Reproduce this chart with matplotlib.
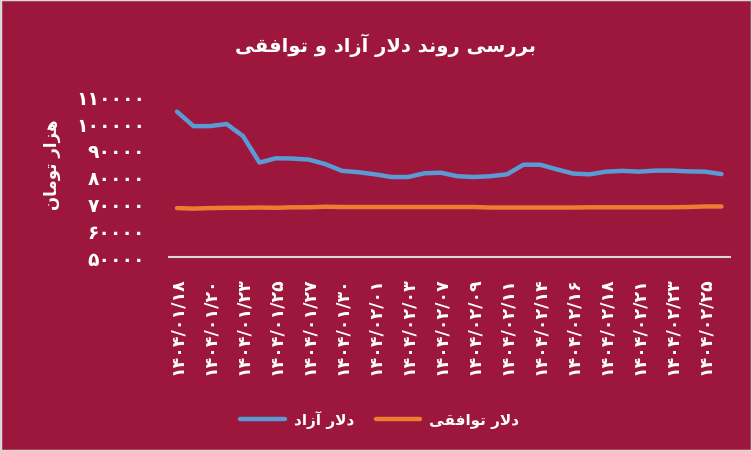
import matplotlib
matplotlib.use("Agg")
import matplotlib.pyplot as plt
from matplotlib.ticker import FixedLocator, FuncFormatter
from matplotlib.patches import Rectangle

# ---------------- data ----------------
dates = ["1404/01/18", "1404/01/19", "1404/01/20", "1404/01/22", "1404/01/23", "1404/01/24",
         "1404/01/25", "1404/01/26", "1404/01/27", "1404/01/28", "1404/01/30", "1404/01/31",
         "1404/02/01", "1404/02/02", "1404/02/03", "1404/02/06", "1404/02/07", "1404/02/08",
         "1404/02/09", "1404/02/10", "1404/02/11", "1404/02/13", "1404/02/14", "1404/02/15",
         "1404/02/16", "1404/02/17", "1404/02/18", "1404/02/20", "1404/02/21", "1404/02/22",
         "1404/02/23", "1404/02/24", "1404/02/25", "1404/02/27"]
free_dollar = [104300, 98900, 98900, 99700, 95200, 85300, 86900, 86800, 86400, 84700,
               82200, 81700, 80900, 79900, 79900, 81300, 81500, 80200, 79900, 80200,
               80900, 84500, 84500, 82800, 81200, 80900, 81900, 82200, 81900, 82300,
               82300, 82000, 81900, 81000]
agreed_dollar = [68300, 68100, 68300, 68400, 68400, 68500, 68400, 68600, 68600, 68800,
                 68700, 68700, 68700, 68700, 68700, 68700, 68700, 68700, 68700, 68500,
                 68500, 68500, 68500, 68500, 68500, 68600, 68600, 68600, 68600, 68600,
                 68600, 68700, 68900, 68900]
y_ticks = [50000, 60000, 70000, 80000, 90000, 100000, 110000]

title_text = "بررسی روند دلار آزاد و توافقی"
ylabel_text = "هزار تومان"
series_names = ["دلار آزاد", "دلار توافقی"]

# ---------------- Arabic/Persian shaping ----------------
FORMS = {  # isolated, final, initial, medial
    'ا': ('\uFE8D', '\uFE8E', None, None),
    'آ': ('\uFE81', '\uFE82', None, None),
    'ب': ('\uFE8F', '\uFE90', '\uFE91', '\uFE92'),
    'ت': ('\uFE95', '\uFE96', '\uFE97', '\uFE98'),
    'د': ('\uFEA9', '\uFEAA', None, None),
    'ر': ('\uFEAD', '\uFEAE', None, None),
    'ز': ('\uFEAF', '\uFEB0', None, None),
    'س': ('\uFEB1', '\uFEB2', '\uFEB3', '\uFEB4'),
    'ف': ('\uFED1', '\uFED2', '\uFED3', '\uFED4'),
    'ق': ('\uFED5', '\uFED6', '\uFED7', '\uFED8'),
    'ل': ('\uFEDD', '\uFEDE', '\uFEDF', '\uFEE0'),
    'م': ('\uFEE1', '\uFEE2', '\uFEE3', '\uFEE4'),
    'ن': ('\uFEE5', '\uFEE6', '\uFEE7', '\uFEE8'),
    'ه': ('\uFEE9', '\uFEEA', '\uFEEB', '\uFEEC'),
    'و': ('\uFEED', '\uFEEE', None, None),
    'ی': ('\uFBFC', '\uFBFD', '\uFBFE', '\uFBFF'),
    'LA': ('\uFEFB', '\uFEFC', None, None),
    'LAA': ('\uFEF5', '\uFEF6', None, None),
}


def shape(text):
    chars = []
    i = 0
    while i < len(text):
        c = text[i]
        if c == 'ل' and i + 1 < len(text) and text[i + 1] in 'اآ':
            chars.append('LA' if text[i + 1] == 'ا' else 'LAA')
            i += 2
        else:
            chars.append(c)
            i += 1
    out = []
    for k, c in enumerate(chars):
        if c not in FORMS:
            out.append(c)
            continue
        prev = chars[k - 1] if k > 0 else None
        nxt = chars[k + 1] if k + 1 < len(chars) else None
        f = FORMS[c]
        jp = prev in FORMS and FORMS[prev][2] is not None
        jn = f[2] is not None and nxt in FORMS
        if jp and jn:
            out.append(f[3])
        elif jp:
            out.append(f[1])
        elif jn:
            out.append(f[2])
        else:
            out.append(f[0])
    return ''.join(out)[::-1]


FA = str.maketrans("0123456789", "۰۱۲۳۴۵۶۷۸۹")


def fa_digits(s):
    return str(s).translate(FA)


# ---------------- plot ----------------
BG = '#9C173B'
plt.rcParams['font.family'] = ['DejaVu Sans']

fig = plt.figure(figsize=(7.52, 4.52), dpi=100, facecolor=BG)
fig.add_artist(Rectangle((0, 0), 1, 1, transform=fig.transFigure, fill=False,
                         edgecolor='#D9D9D9', linewidth=2.5))
ax = fig.add_axes([0.2244, 0.429, 0.746, 0.3555])
ax.set_facecolor(BG)

x = list(range(len(dates)))
l1, = ax.plot(x, free_dollar, color='#5B9BD5', linewidth=3.2, solid_capstyle='round')
l2, = ax.plot(x, agreed_dollar, color='#ED7D31', linewidth=3.2, solid_capstyle='round')

ax.set_xlim(-0.5, len(dates) - 0.5)
ax.set_ylim(50000, 110000)
ax.yaxis.set_major_locator(FixedLocator(y_ticks))
ax.yaxis.set_major_formatter(FuncFormatter(lambda v, p: fa_digits(int(v))))
ax.set_xticks(x[::2])
ax.set_xticklabels([fa_digits(d) for d in dates[::2]], rotation=90)

for s in ['top', 'right', 'left']:
    ax.spines[s].set_visible(False)
ax.spines['bottom'].set_color('#D9D9D9')
ax.spines['bottom'].set_linewidth(1.5)
ax.tick_params(axis='y', length=0, pad=17, labelcolor='white', labelsize=13.5)
ax.tick_params(axis='x', length=0, pad=14, labelcolor='white', labelsize=12.5)
for lab in ax.get_yticklabels() + ax.get_xticklabels():
    lab.set_fontweight('bold')

fig.text(0.069, 0.635, shape(ylabel_text), rotation=90, color='white', fontsize=12,
         fontweight='bold', ha='center', va='center')
fig.text(0.513, 0.90, shape(title_text), color='white', fontsize=14, fontweight='bold',
         ha='center', va='center')

leg = fig.legend([l1, l2], [shape(n) for n in series_names], ncol=2, loc='center',
                 bbox_to_anchor=(0.505, 0.071), frameon=False, handlelength=2.9,
                 columnspacing=1.4, handletextpad=0.6,
                 prop={'weight': 'bold', 'size': 11})
for t in leg.get_texts():
    t.set_color('white')

fig.savefig('out.png', dpi=100, facecolor=BG)
